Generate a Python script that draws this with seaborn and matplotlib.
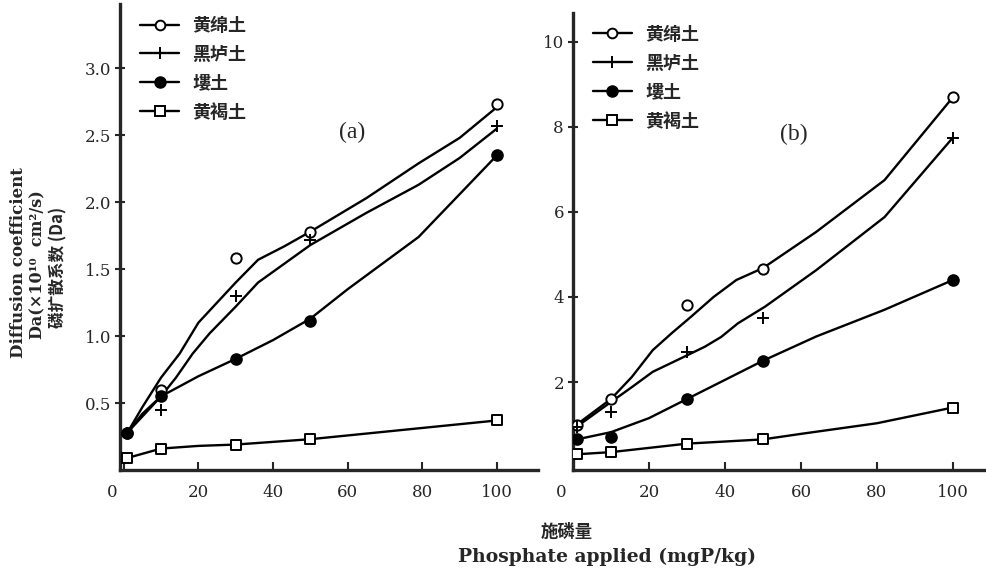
import matplotlib
matplotlib.use("Agg")
import matplotlib.pyplot as plt
import matplotlib.transforms as mtransforms
from matplotlib.lines import Line2D
import seaborn as sns

# measured points (x = phosphate applied, mgP/kg)
x_pts = [1, 10, 30, 50, 100]
soils = ["黄绵土", "黑垆土", "塿土", "黄褐土"]

a_huangmian = [0.28, 0.60, 1.58, 1.78, 2.73]
a_heilu = [0.28, 0.45, 1.30, 1.72, 2.57]
a_lou = [0.28, 0.55, 0.83, 1.11, 2.35]
a_huanghe = [0.09, 0.16, 0.19, 0.23, 0.37]

b_huangmian = [1.0, 1.6, 3.8, 4.65, 8.7]
b_heilu = [0.95, 1.3, 2.7, 3.5, 7.75]
b_lou = [0.65, 0.7, 1.6, 2.5, 4.4]
b_huanghe = [0.3, 0.35, 0.55, 0.65, 1.4]

# hand-drawn fitted curves
a_huangmian_cx = [1, 5, 10, 15, 20, 25, 30, 36, 43, 50, 65, 79, 90, 100]
a_huangmian_cy = [0.28, 0.47, 0.69, 0.87, 1.10, 1.25, 1.40, 1.57, 1.67, 1.78, 2.03, 2.29, 2.48, 2.71]
a_heilu_cx = [1, 5, 10, 14, 18.5, 23, 30, 36, 43, 50, 65, 79, 90, 100]
a_heilu_cy = [0.28, 0.42, 0.55, 0.69, 0.87, 1.02, 1.22, 1.40, 1.54, 1.68, 1.92, 2.13, 2.33, 2.55]
a_lou_cx = [1, 10, 20, 30, 40, 50, 60, 79, 100]
a_lou_cy = [0.28, 0.55, 0.70, 0.83, 0.97, 1.13, 1.35, 1.74, 2.35]
a_huanghe_cx = [1, 10, 20, 30, 50, 100]
a_huanghe_cy = [0.09, 0.16, 0.18, 0.19, 0.23, 0.37]

b_huangmian_cx = [1, 10, 15.5, 21, 26, 31, 37, 43, 50, 64, 82, 100]
b_huangmian_cy = [1.0, 1.6, 2.12, 2.75, 3.15, 3.53, 4.0, 4.4, 4.68, 5.53, 6.75, 8.7]
b_heilu_cx = [1, 10, 15.5, 21, 28.7, 34.7, 39, 43.4, 50.5, 64, 82, 100]
b_heilu_cy = [0.95, 1.53, 1.88, 2.24, 2.57, 2.83, 3.06, 3.38, 3.77, 4.63, 5.88, 7.75]
b_lou_cx = [1, 10, 20, 30, 40, 50, 64, 82, 100]
b_lou_cy = [0.65, 0.82, 1.15, 1.6, 2.05, 2.5, 3.07, 3.7, 4.4]
b_huanghe_cx = [1, 10, 30, 50, 60, 80, 100]
b_huanghe_cy = [0.3, 0.35, 0.55, 0.65, 0.78, 1.03, 1.4]

x_ticks = [0, 20, 40, 60, 80, 100]
a_yticks = [0.5, 1.0, 1.5, 2.0, 2.5, 3.0]
b_yticks = [2, 4, 6, 8, 10]

sns.set_style("ticks")
plt.rcParams["font.family"] = ["DejaVu Serif", "Noto Sans CJK SC"]

fig = plt.figure(figsize=(9.86, 5.74), dpi=100)
ax_a = fig.add_axes([120 / 986, 104 / 574, 418 / 986, 466 / 574])
ax_b = fig.add_axes([573 / 986, 104 / 574, 413 / 986, 457 / 574])

mstyle = {
    "黄绵土": dict(marker="o", facecolor="white", edgecolor="black", s=55, linewidth=1.4),
    "黑垆土": dict(marker="+", color="black", s=70, linewidth=1.4),
    "塿土": dict(marker="o", color="black", edgecolor="black", s=65, linewidth=1),
    "黄褐土": dict(marker="s", facecolor="white", edgecolor="black", s=50, linewidth=1.4),
}

panels = [
    (ax_a, [a_huangmian, a_heilu, a_lou, a_huanghe],
     [(a_huangmian_cx, a_huangmian_cy), (a_heilu_cx, a_heilu_cy),
      (a_lou_cx, a_lou_cy), (a_huanghe_cx, a_huanghe_cy)]),
    (ax_b, [b_huangmian, b_heilu, b_lou, b_huanghe],
     [(b_huangmian_cx, b_huangmian_cy), (b_heilu_cx, b_heilu_cy),
      (b_lou_cx, b_lou_cy), (b_huanghe_cx, b_huanghe_cy)]),
]

for ax, pts, curves in panels:
    for soil, yv, (cx, cy) in zip(soils, pts, curves):
        sns.lineplot(x=cx, y=cy, ax=ax, color="black", linewidth=1.7,
                     sort=False, estimator=None, zorder=2,
                     solid_joinstyle="round", solid_capstyle="round")
        sns.scatterplot(x=x_pts, y=yv, ax=ax, zorder=3, **mstyle[soil])
    sns.despine(ax=ax)
    ax.spines["left"].set_linewidth(2.4)
    ax.spines["bottom"].set_linewidth(2.4)
    ax.set_xticks(x_ticks)
    ax.set_xticklabels([str(t) for t in x_ticks], fontsize=12)
    ax.tick_params(axis="x", direction="in", length=6, width=1.5, pad=10)
    ax.tick_params(axis="y", direction="inout", length=7, width=1.5, pad=3, labelsize=12)
    ax.set_xlabel("")
    ax.set_ylabel("")
    # the "0" label sits left of the spine
    lbl0 = ax.get_xticklabels()[0]
    lbl0.set_transform(lbl0.get_transform() +
                       mtransforms.ScaledTranslation(-0.12, 0, fig.dpi_scale_trans))
    handles = [
        Line2D([], [], color="black", lw=1.7, marker="o", mfc="white", mec="black", ms=7, mew=1.4),
        Line2D([], [], color="black", lw=1.7, marker="+", ms=9, mew=1.4),
        Line2D([], [], color="black", lw=1.7, marker="o", mfc="black", mec="black", ms=8),
        Line2D([], [], color="black", lw=1.7, marker="s", mfc="white", mec="black", ms=7, mew=1.4),
    ]
    ax.legend(handles, soils, loc="upper left", bbox_to_anchor=(0.03, 0.99),
              frameon=False, handlelength=2.2, handletextpad=0.7,
              labelspacing=0.55, borderaxespad=0,
              prop={"family": "Noto Sans CJK SC", "size": 13, "weight": "bold"})

ax_a.set_xlim(-1, 111)
ax_a.set_ylim(0, 3.48)
ax_a.set_yticks(a_yticks)
ax_a.set_yticklabels([f"{t:.1f}" for t in a_yticks])

ax_b.set_xlim(0, 108.7)
ax_b.set_ylim(-0.07, 10.68)
ax_b.set_yticks(b_yticks)
ax_b.set_yticklabels([str(t) for t in b_yticks])

ax_a.text(0.555, 0.725, "(a)", transform=ax_a.transAxes, fontsize=17,
          family="Liberation Serif", ha="center", va="center")
ax_b.text(0.535, 0.735, "(b)", transform=ax_b.transAxes, fontsize=17,
          family="Liberation Serif", ha="center", va="center")

# y axis title, three rotated lines
fig.text(19 / 986, 1 - 263 / 574, "Diffusion coefficient", rotation=90,
         ha="center", va="center", fontsize=12, fontweight="bold")
fig.text(38 / 986, 1 - 265 / 574, "Da(×10¹⁰  cm²/s)", rotation=90,
         ha="center", va="center", fontsize=11.5, fontweight="bold")
fig.text(58 / 986, 1 - 267 / 574, "磷扩散系数 (Da)", rotation=90,
         ha="center", va="center", fontsize=12, fontweight="bold",
         family=["Noto Sans CJK SC", "DejaVu Serif"])

# x axis title
fig.text(567 / 986, 1 - 532 / 574, "施磷量", ha="center", va="center",
         fontsize=12.5, fontweight="bold", family=["Noto Sans CJK SC"])
fig.text(607 / 986, 1 - 557 / 574, "Phosphate applied (mgP/kg)", ha="center",
         va="center", fontsize=13.5, fontweight="bold")

fig.savefig("out.png", dpi=100)
